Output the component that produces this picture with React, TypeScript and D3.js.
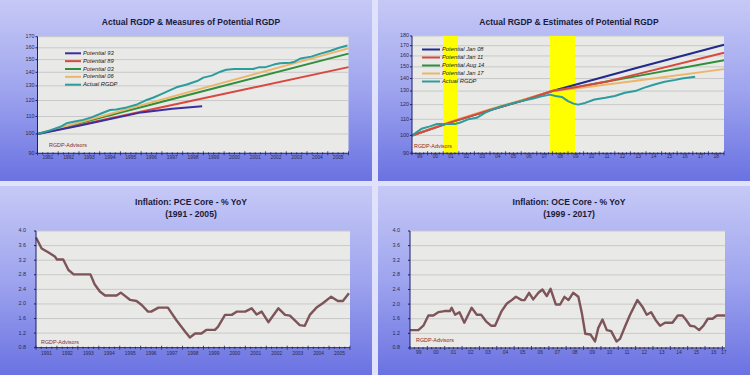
import React from 'react';
import * as d3 from 'd3';

// ---------- Panel 1: Actual RGDP & Measures of Potential RGDP (1991-2005) ----------
const p1Pot93: [number, number][] = [[1991, 100], [1993, 104.6], [1996, 112.5], [1997.5, 114.8], [1998.94, 116.4]];
const p1Pot89: [number, number][] = [[1991, 100], [1998.5, 120], [2006, 144]];
const p1Pot03: [number, number][] = [[1991, 100], [1998.5, 124.5], [2006, 155]];
const p1Pot06: [number, number][] = [[1991, 100], [1998.5, 126.5], [2006, 159.5]];
const p1Actual: [number, number][] = [
  [1991.0, 100], [1991.6, 102], [1992.1, 104], [1992.4, 106], [1992.8, 107], [1993.2, 108], [1993.6, 109.5],
  [1994.1, 112], [1994.5, 114], [1994.8, 114.3], [1995.3, 115.6], [1995.8, 117.5], [1996.2, 120], [1996.6, 122],
  [1997.0, 124.5], [1997.4, 127], [1997.7, 129], [1998.2, 131], [1998.7, 133.5], [1999.0, 136], [1999.4, 137.5],
  [1999.75, 140], [2000.1, 142], [2000.5, 142.6], [2000.95, 142.6], [2001.4, 142.6], [2001.7, 144], [2002.0, 144],
  [2002.4, 146], [2002.7, 147], [2003.2, 147.5], [2003.4, 148.3], [2003.7, 151], [2004.2, 152.5], [2004.65, 155],
  [2005.14, 157.5], [2005.55, 160], [2005.95, 162],
];
const p1Labels = ['Potential 93', 'Potential 89', 'Potential 03', 'Potential 06', 'Actual RGDP'];
const p1YTicks = [90, 100, 110, 120, 130, 140, 150, 160, 170];
const p1XLabels = ['1991', '1992', '1993', '1994', '1995', '1996', '1997', '1998', '1999', '2000', '2001', '2002', '2003', '2004', '2005'];

// ---------- Panel 2: Actual RGDP & Estimates of Potential RGDP (1999-2018) ----------
const p2Jan08: [number, number][] = [[1999, 100], [2001.5, 108.2], [2004, 116.2], [2006, 122.6], [2008, 130], [2013.5, 149.5], [2019, 171]];
const p2Jan11: [number, number][] = [[1999, 100], [2001.5, 108.2], [2004, 116.2], [2006, 122.6], [2008, 130], [2009.5, 133], [2011.5, 137.5], [2013.5, 143.9], [2019, 163]];
const p2Aug14: [number, number][] = [[1999, 100], [2001.5, 108.2], [2004, 116.2], [2006, 122.6], [2008, 130], [2009.5, 133], [2011.5, 137.5], [2013.5, 142.2], [2019, 156]];
const p2Jan17: [number, number][] = [[1999, 100], [2001.5, 108.6], [2004, 116.8], [2006, 123.2], [2008, 130], [2009.5, 132], [2013.5, 138.3], [2019, 148]];
const p2Actual: [number, number][] = [
  [1999, 100], [1999.6, 104], [2000.15, 105.5], [2000.6, 107], [2001.1, 107], [2001.75, 107], [2002.1, 108],
  [2002.6, 110], [2003.15, 111], [2003.7, 114.4], [2004.2, 116.7], [2004.75, 118.8], [2005.4, 120.8], [2006.0, 122.5],
  [2006.7, 124.3], [2007.3, 126], [2007.85, 127.3], [2008.2, 126.3], [2008.6, 125.6], [2009.0, 122.5], [2009.35, 120.7],
  [2009.65, 120], [2010.1, 121.2], [2010.7, 123.7], [2011.4, 125], [2012.0, 126.3], [2012.65, 128.7], [2013.3, 130],
  [2013.9, 132.7], [2014.6, 135.4], [2015.2, 137.3], [2015.9, 138.9], [2016.3, 140], [2017.15, 141.5],
];
const p2Recessions: [number, number][] = [[2001.0, 2001.94], [2007.85, 2009.45]];
const p2Labels = ['Potential Jan 08', 'Potential Jan 11', 'Potential Aug 14', 'Potential Jan 17', 'Actual RGDP'];
const p2YTicks = [90, 100, 110, 120, 130, 140, 150, 160, 170, 180];
const p2XLabels = ['99', '00', '01', '02', '03', '04', '05', '06', '07', '08', '09', '10', '11', '12', '13', '14', '15', '16', '17', '18'];

// ---------- Panel 3: Inflation: PCE Core (1991-2005) ----------
const p3Pce: [number, number][] = [
  [1991.0, 3.82], [1991.27, 3.52], [1991.6, 3.41], [1991.9, 3.3], [1992.0, 3.22], [1992.3, 3.22], [1992.55, 2.93],
  [1992.8, 2.81], [1993.6, 2.81], [1993.8, 2.54], [1994.05, 2.34], [1994.3, 2.23], [1994.85, 2.23], [1995.05, 2.31],
  [1995.25, 2.22], [1995.5, 2.11], [1995.8, 2.08], [1996.05, 1.97], [1996.35, 1.79], [1996.5, 1.79], [1996.85, 1.9],
  [1997.3, 1.9], [1997.7, 1.56], [1998.1, 1.26], [1998.35, 1.08], [1998.6, 1.19], [1998.9, 1.19], [1999.15, 1.29],
  [1999.55, 1.29], [1999.7, 1.38], [2000.03, 1.7], [2000.35, 1.7], [2000.6, 1.79], [2000.99, 1.79], [2001.3, 1.88],
  [2001.54, 1.71], [2001.78, 1.79], [2002.1, 1.5], [2002.58, 1.88], [2002.9, 1.7], [2003.13, 1.68], [2003.6, 1.42],
  [2003.84, 1.4], [2004.08, 1.7], [2004.4, 1.9], [2004.7, 2.02], [2005.1, 2.2], [2005.42, 2.08], [2005.66, 2.08],
  [2005.95, 2.29],
];
const p3XLabels = p1XLabels;

// ---------- Panel 4: Inflation: OCE Core (1999-2017) ----------
const p4Oce: [number, number][] = [
  [1999.0, 1.29], [1999.48, 1.29], [1999.77, 1.41], [2000.06, 1.69], [2000.34, 1.69], [2000.63, 1.78], [2001.0, 1.81],
  [2001.3, 1.81], [2001.4, 1.9], [2001.6, 1.71], [2001.85, 1.78], [2002.13, 1.49], [2002.55, 1.9], [2002.85, 1.71],
  [2003.1, 1.71], [2003.38, 1.53], [2003.67, 1.41], [2003.9, 1.41], [2004.28, 1.81], [2004.57, 2.01], [2004.86, 2.11],
  [2005.1, 2.2], [2005.44, 2.11], [2005.6, 2.11], [2005.86, 2.31], [2006.1, 2.13], [2006.4, 2.31], [2006.63, 2.4],
  [2006.88, 2.22], [2007.1, 2.42], [2007.4, 1.99], [2007.65, 1.99], [2007.9, 2.2], [2008.13, 2.11], [2008.4, 2.31],
  [2008.7, 2.2], [2008.9, 1.76], [2009.1, 1.19], [2009.4, 1.17], [2009.66, 0.98], [2009.85, 1.35], [2010.09, 1.58],
  [2010.34, 1.29], [2010.59, 1.26], [2010.9, 0.98], [2011.1, 1.05], [2011.39, 1.39], [2011.68, 1.71], [2012.1, 2.11],
  [2012.39, 1.93], [2012.64, 1.71], [2012.89, 1.78], [2013.16, 1.56], [2013.41, 1.41], [2013.69, 1.49], [2014.12, 1.49],
  [2014.43, 1.69], [2014.7, 1.69], [2014.89, 1.58], [2015.14, 1.41], [2015.39, 1.39], [2015.66, 1.29], [2015.91, 1.41],
  [2016.16, 1.6], [2016.43, 1.6], [2016.68, 1.69], [2017.15, 1.69],
];
const p4XLabels = ['99', '00', '01', '02', '03', '04', '05', '06', '07', '08', '09', '10', '11', '12', '13', '14', '15', '16', '17'];
const inflYTicks = [0.8, 1.2, 1.6, 2.0, 2.4, 2.8, 3.2, 3.6, 4.0];

const FONT = '"Liberation Sans", Arial, sans-serif';
const AXIS = '#1c1f6e';

type Series = { data: [number, number][]; color: string; width: number };
type PanelCfg = {
  id: string;
  bg: { x: number; y: number; w: number; h: number };
  plot: { l: number; r: number; t: number; b: number };
  xDomain: [number, number];
  yScale: 'log' | 'linear';
  yDomain: [number, number];
  yTicks: number[];
  yFmt: (v: number) => string;
  yLabelGap: number;
  xLabels: string[];
  xLabelY: number;
  titles: { text: string; y: number }[];
  titleSize: number;
  series: Series[];
  legend?: { labels: string[]; colors: string[]; x0: number; x1: number; y0: number; dy: number };
  recessions?: [number, number][];
  watermark: { x: number; y: number };
};

function Panel({ cfg }: { cfg: PanelCfg }) {
  const { plot, bg } = cfg;
  const x = d3.scaleLinear().domain(cfg.xDomain).range([plot.l, plot.r]);
  const y = cfg.yScale === 'log'
    ? d3.scaleLog().domain(cfg.yDomain).range([plot.b, plot.t])
    : d3.scaleLinear().domain(cfg.yDomain).range([plot.b, plot.t]);
  const line = d3.line<[number, number]>().x(d => x(d[0])).y(d => y(d[1]));
  const startYear = Math.floor(cfg.xDomain[0]);
  const quarters: number[] = [];
  for (let q = cfg.xDomain[0]; q <= cfg.xDomain[1] + 1e-6; q += 0.25) quarters.push(q);
  const cx = (bg.x + bg.w / 2);
  return (
    <g>
      <rect x={bg.x} y={bg.y} width={bg.w} height={bg.h} fill="url(#panelGrad)" />
      {cfg.titles.map((t, i) => (
        <text key={i} x={cx + 5} y={t.y} textAnchor="middle" dominantBaseline="middle"
          fontFamily={FONT} fontWeight="bold" fontSize={cfg.titleSize} fill="#1a1a3a">{t.text}</text>
      ))}
      <rect x={plot.l} y={plot.t} width={plot.r - plot.l} height={plot.b - plot.t} fill="#e9e9e7" />
      {cfg.yTicks.map((v, i) => (
        <line key={i} x1={plot.l} x2={plot.r} y1={y(v)} y2={y(v)} stroke="#c9c9c9" strokeWidth={1} />
      ))}
      {cfg.recessions && cfg.recessions.map((r, i) => (
        <rect key={i} x={x(r[0])} y={plot.t} width={x(r[1]) - x(r[0])} height={plot.b - plot.t} fill="#ffff00" />
      ))}
      {cfg.series.map((s, i) => (
        <path key={i} d={line(s.data) || ''} fill="none" stroke={s.color} strokeWidth={s.width} strokeLinejoin="round" />
      ))}
      <line x1={plot.l} x2={plot.l} y1={plot.t} y2={plot.b} stroke={AXIS} strokeWidth={1} />
      <line x1={plot.l} x2={plot.r} y1={plot.b} y2={plot.b} stroke={AXIS} strokeWidth={1} />
      {cfg.yTicks.map((v, i) => (
        <g key={i}>
          <line x1={plot.l - 2} x2={plot.l} y1={y(v)} y2={y(v)} stroke={AXIS} strokeWidth={1} />
          <text x={plot.l - cfg.yLabelGap} y={y(v)} textAnchor="end" dominantBaseline="middle"
            fontFamily={FONT} fontSize={5.4} fill="#2a2a4a">{cfg.yFmt(v)}</text>
        </g>
      ))}
      {quarters.map((q, i) => {
        const isYear = Math.abs(q - Math.round(q)) < 1e-6;
        return <line key={i} x1={x(q)} x2={x(q)} y1={plot.b - (isYear ? 2 : 1)} y2={plot.b + (isYear ? 2 : 1.2)} stroke={AXIS} strokeWidth={0.8} />;
      })}
      {cfg.xLabels.map((lab, i) => {
        const yr = startYear + i;
        const c = Math.min(yr + 0.5, (yr + cfg.xDomain[1]) / 2);
        return (
          <text key={i} x={x(c)} y={cfg.xLabelY} textAnchor="middle" dominantBaseline="middle"
            fontFamily={FONT} fontSize={4.9} fill="#2a2a4a">{lab}</text>
        );
      })}
      {cfg.legend && cfg.legend.labels.map((lab, i) => {
        const lg = cfg.legend!;
        const yy = lg.y0 + i * lg.dy;
        return (
          <g key={i}>
            <line x1={lg.x0} x2={lg.x1} y1={yy} y2={yy} stroke={lg.colors[i]} strokeWidth={2} />
            <text x={lg.x1 + 2} y={yy} dominantBaseline="middle" fontFamily={FONT} fontStyle="italic"
              fontSize={5.8} fill="#222">{lab}</text>
          </g>
        );
      })}
      <text x={cfg.watermark.x} y={cfg.watermark.y} dominantBaseline="middle" fontFamily={FONT}
        fontSize={5.4} fill="#8a2a1c">RGDP-Advisors</text>
    </g>
  );
}

const C = {
  navyPurple: '#3b2f9e', red: '#d9473d', green: '#2f8f3a', tan: '#ecb66a', teal: '#2c9c9c', navy: '#1f2a8a', brown: '#7d5458',
};

export default function App() {
  const fmt0 = (v: number) => String(v);
  const fmt1 = (v: number) => v.toFixed(1);
  const panels: PanelCfg[] = [
    {
      id: 'tl', bg: { x: 0, y: 0, w: 372, h: 181 }, plot: { l: 37.5, r: 348.5, t: 36.7, b: 153.3 },
      xDomain: [1991, 2006], yScale: 'log', yDomain: [90, 170], yTicks: p1YTicks, yFmt: fmt0, yLabelGap: 3,
      xLabels: p1XLabels, xLabelY: 158, titles: [{ text: 'Actual RGDP & Measures of Potential RGDP', y: 22.7 }], titleSize: 8.5,
      series: [
        { data: p1Pot89, color: C.red, width: 2 },
        { data: p1Pot03, color: C.green, width: 2 },
        { data: p1Pot06, color: C.tan, width: 2 },
        { data: p1Pot93, color: C.navyPurple, width: 2 },
        { data: p1Actual, color: C.teal, width: 2 },
      ],
      legend: { labels: p1Labels, colors: [C.navyPurple, C.red, C.green, C.tan, C.teal], x0: 65, x1: 81, y0: 53.3, dy: 7.85 },
      watermark: { x: 49, y: 146 },
    },
    {
      id: 'tr', bg: { x: 378, y: 0, w: 372, h: 181 }, plot: { l: 412, r: 724, t: 36, b: 153.3 },
      xDomain: [1999, 2019], yScale: 'log', yDomain: [90, 180], yTicks: p2YTicks, yFmt: fmt0, yLabelGap: 3,
      xLabels: p2XLabels, xLabelY: 157, titles: [{ text: 'Actual RGDP & Estimates of Potential RGDP', y: 22.3 }], titleSize: 8.5,
      series: [
        { data: p2Jan08, color: C.navy, width: 2 },
        { data: p2Aug14, color: C.green, width: 2 },
        { data: p2Jan17, color: C.tan, width: 2 },
        { data: p2Jan11, color: C.red, width: 2 },
        { data: p2Actual, color: C.teal, width: 2 },
      ],
      legend: { labels: p2Labels, colors: [C.navy, C.red, C.green, C.tan, C.teal], x0: 422, x1: 440, y0: 49.5, dy: 8 },
      recessions: p2Recessions,
      watermark: { x: 414, y: 147 },
    },
    {
      id: 'bl', bg: { x: 0, y: 186, w: 372, h: 189 }, plot: { l: 36, r: 350, t: 231, b: 347.7 },
      xDomain: [1991, 2006], yScale: 'linear', yDomain: [0.8, 4.0], yTicks: inflYTicks, yFmt: fmt1, yLabelGap: 10,
      xLabels: p3XLabels, xLabelY: 353.5,
      titles: [{ text: 'Inflation: PCE Core - %  YoY', y: 202.7 }, { text: '(1991 - 2005)', y: 214.7 }], titleSize: 8.6,
      series: [{ data: p3Pce, color: C.brown, width: 2.4 }],
      watermark: { x: 41, y: 342.5 },
    },
    {
      id: 'br', bg: { x: 378, y: 186, w: 372, h: 189 }, plot: { l: 410, r: 725, t: 231, b: 348 },
      xDomain: [1999, 2017.15], yScale: 'linear', yDomain: [0.8, 4.0], yTicks: inflYTicks, yFmt: fmt1, yLabelGap: 10,
      xLabels: p4XLabels, xLabelY: 353,
      titles: [{ text: 'Inflation: OCE Core - %  YoY', y: 203 }, { text: '(1999 - 2017)', y: 215 }], titleSize: 8.6,
      series: [{ data: p4Oce, color: C.brown, width: 2.4 }],
      watermark: { x: 416, y: 341 },
    },
  ];
  return (
    <svg width={750} height={375} style={{ position: 'absolute', left: 0, top: 0, display: 'block' }}>
      <defs>
        <linearGradient id="panelGrad" x1="0" y1="0" x2="0" y2="1">
          <stop offset="0" stopColor="#c6c9f6" />
          <stop offset="0.5" stopColor="#9ea4ee" />
          <stop offset="1" stopColor="#6a72e2" />
        </linearGradient>
      </defs>
      <rect x={0} y={0} width={750} height={375} fill="#dfe2fa" />
      {panels.map(p => <Panel key={p.id} cfg={p} />)}
    </svg>
  );
}
